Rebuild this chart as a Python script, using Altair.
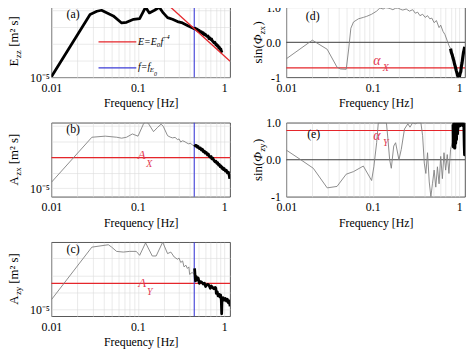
import altair as alt
import pandas as pd

FONT = "Liberation Serif"
RED = "#e5262b"
RED_TXT = "#e23a52"
BLUE = "#3c3cd6"
GREY = "#808080"

# ---------------- data ----------------
freq_grid = [0.01, 0.02, 0.03, 0.04, 0.05, 0.06, 0.07, 0.08, 0.09,
             0.1, 0.2, 0.3, 0.4, 0.5, 0.6, 0.7, 0.8, 0.9, 1.0]
f_E0 = 0.45

# (a) E_zz  (values stored as log10 of m^2 s)
a_f = [0.01, 0.028, 0.0336, 0.038, 0.052, 0.065, 0.074, 0.0895, 0.105, 0.123,
       0.136, 0.156, 0.177, 0.197, 0.221, 0.252, 0.288, 0.329, 0.375,
       0.45, 0.465, 0.48, 0.49, 0.50, 0.515, 0.53, 0.545, 0.56, 0.575, 0.59,
       0.605, 0.62, 0.635, 0.65, 0.665, 0.68, 0.70, 0.715, 0.73, 0.745, 0.76,
       0.78, 0.80, 0.815, 0.83, 0.85, 0.865, 0.88, 0.90, 0.915, 0.93, 0.945]
a_logE = [-4.96, -1.23, -1.04, -0.98, -1.32, -1.74, -1.70, -1.52, -1.48, -0.80,
          -1.14, -0.98, -0.80, -1.14, -1.42, -1.52, -1.66, -1.74, -1.89,
          -2.09, -2.05, -2.17, -2.12, -2.22, -2.19, -2.30, -2.27, -2.38, -2.33, -2.45,
          -2.42, -2.50, -2.55, -2.52, -2.68, -2.63, -2.74, -2.70, -2.82, -2.86, -2.93,
          -2.90, -3.05, -3.02, -3.13, -3.10, -3.25, -3.20, -3.33, -3.30, -3.45, -3.52]
a_fit_f = [0.24, 1.17]
a_fit_logE = [-0.80, -4.03]

# (b) A_zx
b_grey_f = [0.01, 0.0294, 0.042, 0.057, 0.065, 0.074, 0.0865, 0.1005, 0.116, 0.124,
            0.134, 0.152, 0.170, 0.186, 0.197, 0.221, 0.237, 0.252, 0.27, 0.288,
            0.30, 0.314, 0.328, 0.343, 0.36, 0.385, 0.41, 0.43, 0.454]
b_grey_log = [-4.62, -1.73, -1.66, -1.73, -1.79, -1.73, -1.52, -1.66, -0.89, -0.70,
              -0.89, -1.37, -1.09, -0.89, -1.03, -1.63, -1.72, -1.77, -1.74, -1.88,
              -1.84, -2.04, -1.96, -1.99, -2.06, -2.15, -2.12, -2.24, -2.32]
b_black_f = [0.454, 0.465, 0.477, 0.49, 0.50, 0.515, 0.53, 0.545, 0.56, 0.575,
             0.59, 0.605, 0.62, 0.64, 0.655, 0.67, 0.69, 0.705, 0.72, 0.74,
             0.76, 0.78, 0.80, 0.82, 0.84, 0.86, 0.88, 0.90, 0.92, 0.94,
             0.96, 0.98, 1.00, 1.03, 1.06, 1.09, 1.12, 1.14, 1.16]
b_black_log = [-2.20, -2.30, -2.25, -2.38, -2.33, -2.45, -2.42, -2.55, -2.50, -2.66,
               -2.62, -2.75, -2.70, -2.86, -2.80, -2.95, -3.02, -2.97, -3.12, -3.08,
               -3.22, -3.30, -3.26, -3.40, -3.36, -3.52, -3.48, -3.62, -3.58, -3.72,
               -3.68, -3.80, -3.74, -3.90, -3.85, -4.02, -3.98, -4.15, -4.40]
b_AX_log = -3.04

# (c) A_zy
c_grey_f = [0.01, 0.0294, 0.0456, 0.0498, 0.0568, 0.0678, 0.0806, 0.096, 0.105, 0.123,
            0.147, 0.163, 0.194, 0.221, 0.241, 0.264, 0.288, 0.30, 0.314, 0.33,
            0.343, 0.36, 0.375, 0.39, 0.398, 0.427, 0.446]
c_grey_log = [-4.42, -1.34, -1.20, -1.34, -1.59, -1.63, -1.59, -1.59, -1.82, -1.09,
              -1.86, -1.86, -1.05, -1.72, -1.63, -1.92, -2.05, -1.98, -2.24, -2.15,
              -2.50, -2.40, -2.59, -2.50, -2.94, -2.82, -2.94]
c_black_f = [0.454, 0.465, 0.475, 0.49, 0.50, 0.515, 0.53, 0.55, 0.57, 0.59,
             0.61, 0.63, 0.65, 0.67, 0.69, 0.71, 0.73, 0.76, 0.79, 0.80,
             0.81, 0.83, 0.85, 0.87, 0.89, 0.91, 0.925, 0.935, 0.945, 0.97,
             1.00, 1.03, 1.06, 1.09, 1.12, 1.15, 1.17]
c_black_log = [-2.59, -3.32, -3.07, -3.25, -3.15, -3.46, -3.36, -3.40, -3.50, -3.45,
               -3.65, -3.55, -3.52, -3.60, -3.75, -3.62, -3.70, -3.78, -3.70, -3.75,
               -4.05, -3.95, -4.20, -4.10, -4.25, -4.15, -4.45, -5.25, -4.40, -4.30,
               -4.45, -4.35, -4.50, -4.40, -4.60, -4.50, -4.81]
c_AY_log = -3.46

# (d) sin(phi_zx)
d_grey_f = [0.01, 0.02, 0.0297, 0.0386, 0.0422, 0.0493, 0.0525, 0.0558, 0.0599, 0.0683,
            0.0778, 0.085, 0.097, 0.111, 0.121, 0.132, 0.141, 0.150, 0.160, 0.171,
            0.183, 0.196, 0.21, 0.223, 0.244, 0.266, 0.290, 0.311, 0.331, 0.352,
            0.378, 0.405, 0.431, 0.458, 0.483, 0.514, 0.546, 0.586, 0.612, 0.651,
            0.686, 0.729, 0.762, 0.796]
d_grey_v = [-0.47, 0.06, -0.20, -0.71, -0.76, -0.77, -0.22, 0.40, 0.58, 0.67,
            0.71, 0.74, 0.80, 0.89, 0.98, 0.95, 0.99, 0.98, 0.96, 0.93,
            0.97, 0.98, 0.94, 0.92, 0.95, 0.89, 0.93, 0.83, 0.86, 0.76,
            0.80, 0.71, 0.76, 0.67, 0.69, 0.56, 0.62, 0.42, 0.49, 0.31,
            0.22, 0.04, -0.09, -0.18]
d_black_f = [0.796, 0.815, 0.832, 0.85, 0.869, 0.885, 0.907, 0.925, 0.948, 0.96,
             0.975, 0.99, 1.009, 1.03, 1.045, 1.06, 1.082, 1.10, 1.12, 1.14, 1.16]
d_black_v = [-0.18, -0.30, -0.36, -0.45, -0.53, -0.62, -0.71, -0.80, -0.89, -0.95,
             -0.98, -0.93, -0.97, -0.88, -0.84, -0.70, -0.58, -0.45, -0.31, -0.22, -0.13]
d_alphaX = -0.73

# (e) sin(phi_zy)
e_grey_f = [0.01, 0.0147, 0.0205, 0.0297, 0.0386, 0.0493, 0.0599, 0.0778, 0.097, 0.103,
            0.111, 0.116, 0.126, 0.144, 0.150, 0.157, 0.164, 0.175, 0.184, 0.201,
            0.214, 0.233, 0.255, 0.270, 0.290, 0.311, 0.331, 0.346, 0.361, 0.378,
            0.395, 0.412, 0.431, 0.451, 0.471, 0.491, 0.514, 0.537, 0.561, 0.586,
            0.612, 0.640, 0.668, 0.698, 0.729, 0.762, 0.796, 0.832, 0.853]
e_grey_v = [0.26, 0.0, -0.23, -0.76, -0.72, -0.39, -0.32, -0.17, -0.56, -0.19,
            0.46, 1.0, 1.0, 1.0, 0.56, 0.0, -0.23, 0.37, 0.46, 0.0,
            0.28, 0.83, 0.97, 0.88, 1.0, 0.97, 1.0, 1.0, 1.0, 0.65,
            -0.09, -0.37, 0.19, -0.60, -1.0, -0.65, -0.28, -0.74, -0.19, -0.65,
            0.09, -0.51, 0.19, -0.28, 0.14, -0.37, 0.28, 0.46, 0.90]
e_black_f = [0.853, 0.86, 0.868, 0.875, 0.883, 0.89, 0.90, 0.91, 0.92, 0.93,
             0.94, 0.955, 0.97, 0.985, 1.0, 1.02, 1.04, 1.06, 1.08, 1.10,
             1.12, 1.14, 1.15, 1.16, 1.17]
e_black_v = [0.95, 0.35, 0.97, 0.40, 0.98, 0.32, 0.95, 0.45, 0.97, 0.55,
             0.98, 0.70, 1.0, 0.90, 0.98, 0.92, 1.0, 0.95, 1.0, 0.93,
             0.97, 0.90, 0.40, 0.14, 0.30]
e_alphaY = 0.79

# ---------------- helpers ----------------
W, H, H_TOP = 181, 75, 71
one = pd.DataFrame({"k": [0]})
xscale = alt.Scale(type="log", domain=[0.01, 1.17], nice=False)
xlabel_expr = ("datum.value == 0.01 ? '0.01' : (datum.value == 0.1 ? '0.1' : "
               "(datum.value == 1 ? '1' : ''))")


def X():
    return alt.X("f:Q", scale=xscale,
                 axis=alt.Axis(values=freq_grid, labelExpr=xlabel_expr,
                               title="Frequency [Hz]", grid=True, labelPadding=5,
                               titlePadding=5, labelOverlap=False, labelFlush=False))


def Ylog(lo, hi, ticks):
    return alt.Y("v:Q", scale=alt.Scale(type="log", domain=[10 ** lo, 10 ** hi], nice=False),
                 axis=alt.Axis(values=ticks, labelExpr="datum.value < 0.000015 ? '10⁻⁵' : ''",
                               title=None, grid=True, labelPadding=2, labelOverlap=False))


def Ylin():
    return alt.Y("v:Q", scale=alt.Scale(domain=[-1, 1], nice=False),
                 axis=alt.Axis(values=[-1, 0, 1],
                               labelExpr="datum.value == -1 ? '-1' : datum.label",
                               title=None, grid=False, labelPadding=6))


def logdf(fs, logs):
    return pd.DataFrame({"f": fs, "v": [10 ** x for x in logs]})


def lindf(fs, vs):
    return pd.DataFrame({"f": fs, "v": vs})


def line(df, Y, color, width):
    return alt.Chart(df).mark_line(color=color, strokeWidth=width, clip=True,
                                   strokeJoin="round").encode(x=X(), y=Y)


def hrule(val, Y, color, width=1.2):
    return alt.Chart(pd.DataFrame({"v": [val]})).mark_rule(
        color=color, strokeWidth=width).encode(y=Y)


def vrule(val, color):
    return alt.Chart(pd.DataFrame({"f": [val]})).mark_rule(
        color=color, strokeWidth=1.1).encode(x=X())


def txt(s, x, y, size=12, color="black", angle=0, style="normal",
        align="left", baseline="middle"):
    return alt.Chart(one).mark_text(
        text=s, fontSize=size, font=FONT, color=color, angle=angle,
        fontStyle=style, align=align, baseline=baseline).encode(
        x=alt.value(x), y=alt.value(y))


def seg(x1, x2, y, color):
    return alt.Chart(one).mark_rule(color=color, strokeWidth=1.3).encode(
        x=alt.value(x1), x2=alt.value(x2), y=alt.value(y))


def ytitle_left(sym, sub, start):
    wsym = 7.9 if sym == "E" else 9.4
    return [
        txt(sym, -34, start, 13, angle=270, baseline="alphabetic"),
        txt(sub, -31, start - wsym - 0.5, 9, angle=270, baseline="alphabetic"),
        txt("[m² s]", -34, start - wsym - 12, 13, angle=270, baseline="alphabetic"),
    ]


def ytitle_right(sub, start):
    return [
        txt("sin(", -24.5, start, 13, angle=270, baseline="alphabetic"),
        txt("Φ", -24.5, start - 19.5, 13, angle=270, style="italic", baseline="alphabetic"),
        txt(sub, -21.5, start - 29.5, 9, angle=270, baseline="alphabetic"),
        txt(")", -24.5, start - 38.5, 13, angle=270, baseline="alphabetic"),
    ]


# ---------------- panels ----------------
Ya = Ylog(-5, -0.8, [1e-5, 1e-4, 1e-3, 1e-2, 1e-1])
pa = alt.layer(
    vrule(f_E0, BLUE),
    line(logdf(a_f, a_logE), Ya, "black", 2.8),
    line(logdf(a_fit_f, a_fit_logE), Ya, RED, 1.3),
    seg(47.7, 86, 35, RED),
    seg(47.7, 86, 61.5, BLUE),
    txt("E=E", 87.7, 35, 10, style="italic"),
    txt("0", 106.7, 38.3, 7, style="italic"),
    txt("f", 110.5, 35, 10, style="italic"),
    txt("-4", 114, 30.3, 7, style="italic"),
    txt("f=f", 87.7, 60.5, 10, style="italic"),
    txt("E", 99.5, 63.2, 7, style="italic"),
    txt("0", 104, 68, 6, style="italic"),
    txt("(a)", 22, 7, 12, align="center"),
    *ytitle_left("E", "zz", 60),
).properties(width=W, height=H_TOP)

Yb = Ylog(-5.55, -0.8, [1e-5, 1e-4, 1e-3, 1e-2, 1e-1])
pb = alt.layer(
    hrule(10 ** b_AX_log, Yb, RED),
    vrule(f_E0, BLUE),
    line(logdf(b_grey_f, b_grey_log), Yb, GREY, 0.9),
    line(logdf(b_black_f, b_black_log), Yb, "black", 2.8),
    txt("A", 91.5, 32.5, 13, color=RED_TXT, style="italic", align="center"),
    txt("X", 99, 41.5, 10, color=RED_TXT, style="italic", align="center"),
    txt("(b)", 22, 6.5, 12, align="center"),
    *ytitle_left("A", "zx", 63.5),
).properties(width=W, height=H)

Yc = Ylog(-5.39, -1.05, [1e-5, 1e-4, 1e-3, 1e-2])
pc = alt.layer(
    hrule(10 ** c_AY_log, Yc, RED),
    vrule(f_E0, BLUE),
    line(logdf(c_grey_f, c_grey_log), Yc, GREY, 0.9),
    line(logdf(c_black_f, c_black_log), Yc, "black", 2.8),
    txt("A", 92, 41.5, 13, color=RED_TXT, style="italic", align="center"),
    txt("Y", 99.7, 50.7, 10, color=RED_TXT, style="italic", align="center"),
    txt("(c)", 22, 6.5, 12, align="center"),
    *ytitle_left("A", "zy", 63.5),
).properties(width=W, height=H)

Yd = Ylin()
pd_ = alt.layer(
    hrule(0, Yd, "#3a3a3a", 1.0),
    hrule(d_alphaX, Yd, RED),
    line(lindf(d_grey_f, d_grey_v), Yd, GREY, 0.9),
    line(lindf(d_black_f, d_black_v), Yd, "black", 3.2),
    txt("α", 91.7, 54.5, 14, color=RED_TXT, style="italic", align="center"),
    txt("X", 100.8, 62, 10, color=RED_TXT, style="italic", align="center"),
    txt("(d)", 26.7, 9, 12, align="center"),
    *ytitle_right("zx", 57),
).properties(width=W, height=H_TOP)

Ye = Ylin()
pe = alt.layer(
    hrule(0, Ye, "#3a3a3a", 1.0),
    hrule(e_alphaY, Ye, RED),
    line(lindf(e_grey_f, e_grey_v), Ye, GREY, 0.9),
    line(lindf(e_black_f, e_black_v), Ye, "black", 3.2),
    txt("α", 91.7, 13.3, 14, color=RED_TXT, style="italic", align="center"),
    txt("Y", 100.8, 20.8, 10, color=RED_TXT, style="italic", align="center"),
    txt("(e)", 27.7, 11, 12, align="center"),
    *ytitle_right("zy", 59),
).properties(width=W, height=H)

chart = alt.concat(
    pa, pd_, pb, pe, pc, columns=2, bounds="flush",
    spacing={"row": 46, "column": 57}
).properties(
    padding={"left": -1, "top": -10, "right": 0, "bottom": 0}
).configure(font=FONT).configure_view(
    stroke="#2b2b2b", strokeWidth=0.8
).configure_axis(
    labelFont=FONT, labelFontSize=12, labelColor="black",
    titleFont=FONT, titleFontSize=12, titleFontWeight="normal", titleColor="black",
    domain=False, ticks=False, gridColor="#dcdcdc", gridWidth=0.6
)

chart.save("out.html", embed_options={"renderer": "svg", "actions": False})
